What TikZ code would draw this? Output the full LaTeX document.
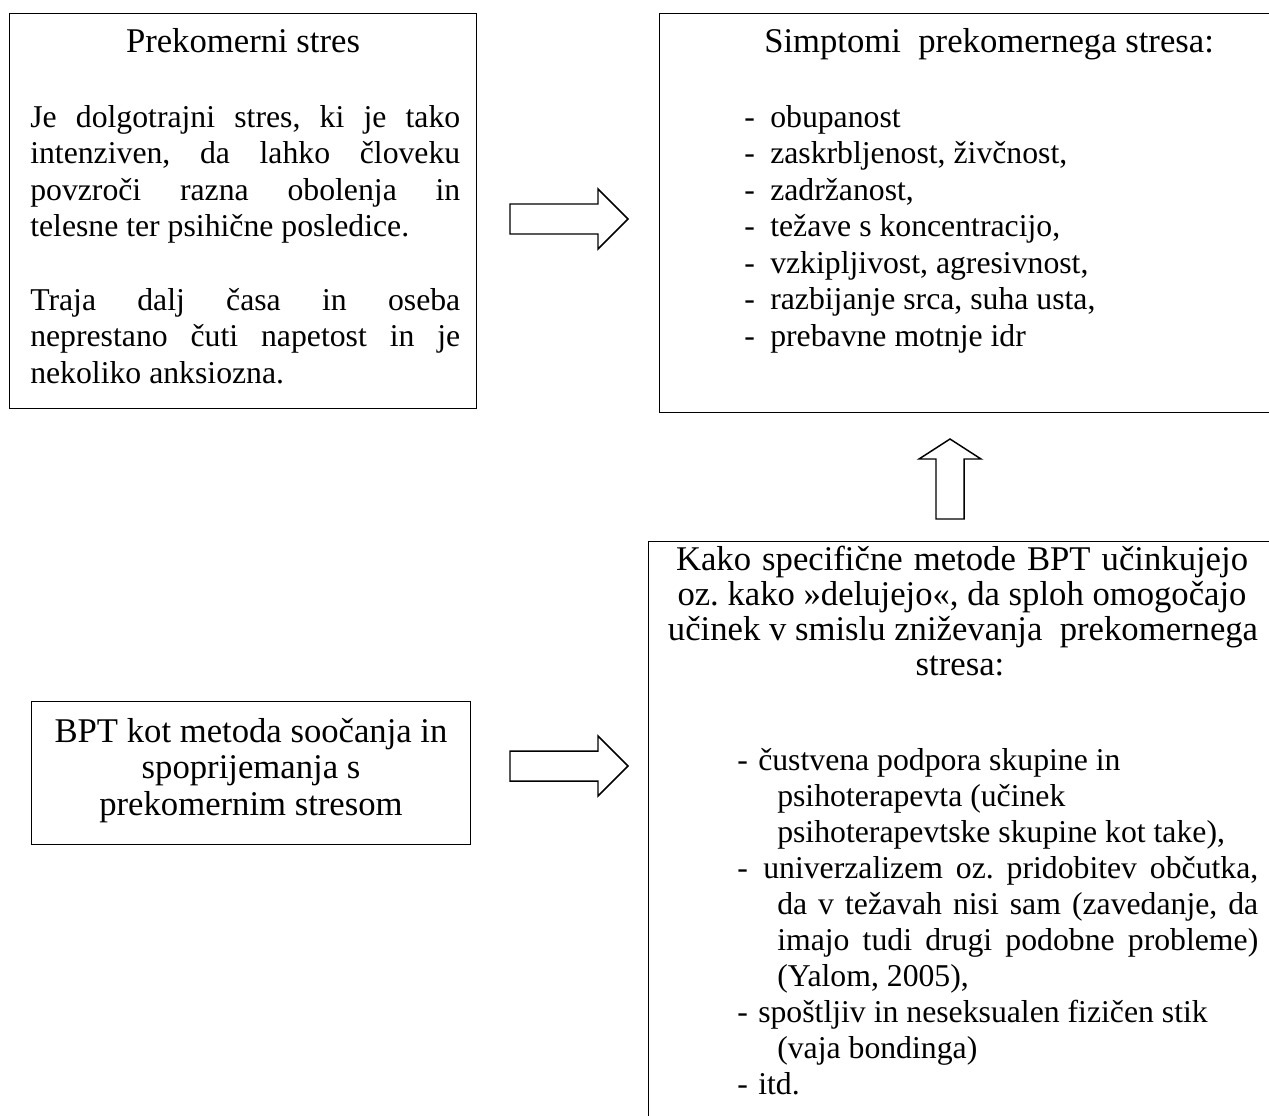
\documentclass[tikz,border=0pt]{standalone}
\usepackage{fontspec}
\setmainfont{Liberation Serif}
\frenchspacing
\tikzset{
  boxst/.style={draw, line width=1.1pt, inner sep=0pt, anchor=north west},
  txt/.style={inner sep=0pt, anchor=base west, font=\fontsize{23.8pt}{27.4pt}\selectfont},
  ttl/.style={inner sep=0pt, anchor=base, font=\fontsize{26pt}{30pt}\selectfont},
  blockarrow/.style={draw, line width=1.1pt, line join=miter, fill=white}
}
\newcommand\jl[2]{\makebox[#1][s]{#2}}
\begin{document}
\begin{tikzpicture}[x=0.75pt,y=-0.75pt]
\useasboundingbox (0,0) rectangle (1269,1115);
\clip (0,0) rectangle (1269,1115);
\fill[white] (0,0) rectangle (1269,1115);

% boxes
\node[boxst, minimum width=350.25pt, minimum height=296.25pt] (boxA) at (9,13) {};
\node[boxst, minimum width=465.75pt, minimum height=299.25pt] (boxB) at (659,13) {};
\node[boxst, minimum width=329.25pt, minimum height=107.25pt] (boxC) at (31,701) {};
\node[boxst, minimum width=474pt, minimum height=441.75pt] (boxD) at (648,541) {};

% box A text
\node[ttl] (a0) at (243,52) {Prekomerni stres};
\node[txt] (a1) at (30,127) {\jl{322.5pt}{Je dolgotrajni stres, ki je tako}};
\node[txt] (a2) at (30,163.6) {\jl{322.5pt}{intenziven, da lahko človeku}};
\node[txt] (a3) at (30,200.2) {\jl{322.5pt}{povzroči razna obolenja in}};
\node[txt] (a4) at (30,236.8) {telesne ter psihične posledice.};
\node[txt] (a5) at (30,310) {\jl{322.5pt}{Traja dalj časa in oseba}};
\node[txt] (a6) at (30,346.6) {\jl{322.5pt}{neprestano čuti napetost in je}};
\node[txt] (a7) at (30,383.2) {nekoliko anksiozna.};

% box B text
\node[ttl, anchor=base west] (b0) at (764,52) {Simptomi\ \ prekomernega stresa:};
\foreach \t [count=\i] in {obupanost, {zaskrbljenost, živčnost,}, {zadržanost,}, {težave s koncentracijo,}, {vzkipljivost, agresivnost,}, {razbijanje srca, suha usta,}, prebavne motnje idr}{
  \node[txt] (bd\i) at (744,{127+36.5*(\i-1)}) {-};
  \node[txt] (b\i) at (770,{127+36.5*(\i-1)}) {\t};
}

% box C text
\node[ttl] (c1) at (251,742) {BPT kot metoda soočanja in};
\node[ttl] (c2) at (251,778) {spoprijemanja s};
\node[ttl] (c3) at (251,815) {prekomernim stresom};

% box D text
\node[ttl] (d0) at (962,570) {\jl{429pt}{Kako specifične metode BPT učinkujejo}};
\node[ttl] (d1) at (962,605) {oz. kako »delujejo«, da sploh omogočajo};
\node[ttl] (d2) at (963,640) {učinek v smislu zniževanja\ \ prekomernega};
\node[ttl] (d3) at (960,675) {stresa:};

\node[txt] (dd1) at (737,770) {-};
\node[txt] (e1) at (758,770) {čustvena podpora skupine in};
\node[txt] (e2) at (777,806) {psihoterapevta (učinek};
\node[txt] (e3) at (777,842) {psihoterapevtske skupine kot take),};
\node[txt] (dd2) at (737,878) {-};
\node[txt] (e4) at (763,878) {\jl{371.25pt}{univerzalizem oz. pridobitev občutka,}};
\node[txt] (e5) at (777,914) {\jl{360.75pt}{da v težavah nisi sam (zavedanje, da}};
\node[txt] (e6) at (777,950) {\jl{360.75pt}{imajo tudi drugi podobne probleme)}};
\node[txt] (e7) at (777,986) {(Yalom, 2005),};
\node[txt] (dd3) at (737,1022) {-};
\node[txt] (e8) at (758,1022) {spoštljiv in neseksualen fizičen stik};
\node[txt] (e9) at (777,1058) {(vaja bondinga)};
\node[txt] (dd4) at (737,1094) {-};
\node[txt] (e10) at (758,1094) {itd.};

% block arrows
\draw[blockarrow] (510,204) -- (598,204) -- (598,189) -- (628,219) -- (598,249) -- (598,234) -- (510,234) -- cycle;
\draw[blockarrow] (510,751) -- (598,751) -- (598,736) -- (628,766) -- (598,796) -- (598,781) -- (510,781) -- cycle;
\draw[blockarrow] (936,519) -- (936,459) -- (919,459) -- (950,439) -- (981,459) -- (964,459) -- (964,519) -- cycle;
\end{tikzpicture}
\end{document}
